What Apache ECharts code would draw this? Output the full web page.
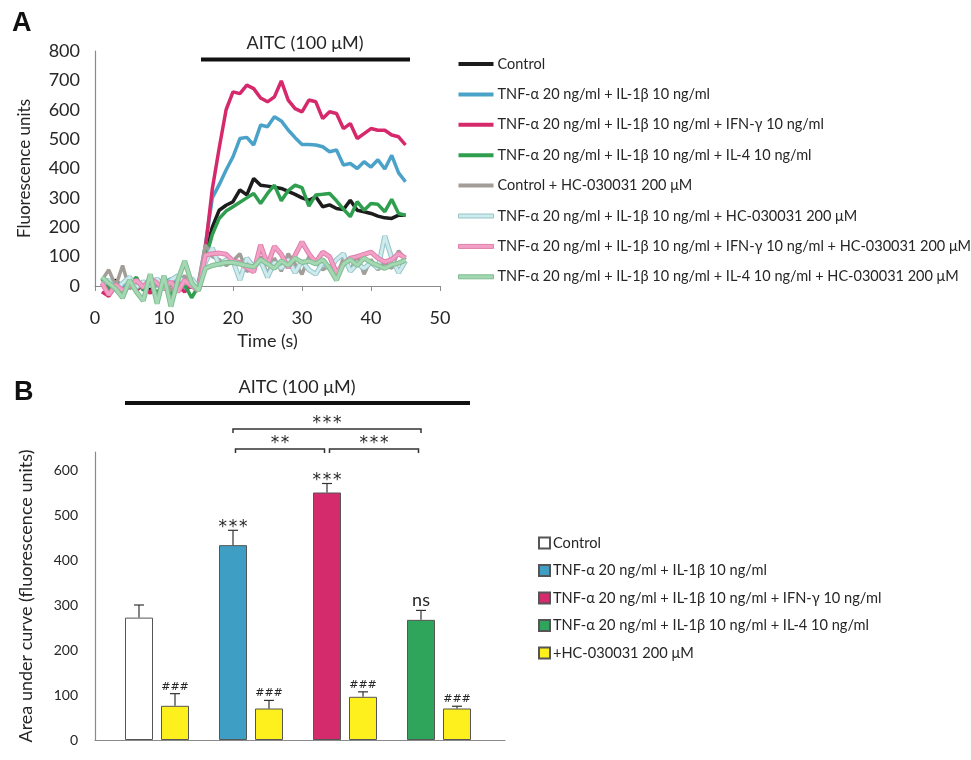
<!DOCTYPE html>
<html>
<head>
<meta charset="utf-8">
<title>AITC responses</title>
<script src="https://cdn.jsdelivr.net/npm/echarts@6/dist/echarts.min.js"></script>
<style>
    html, body { margin: 0; padding: 0; background: #fff; }
    #main { width: 971px; height: 760px; }
</style>
</head>
<body>
<div id="main"></div>
<script>
// ---- panel A data: fluorescence traces (1 point per second) ----
var time = [1, 2, 3, 4, 5, 6, 7, 8, 9, 10, 11, 12, 13, 14, 15, 16, 17, 18, 19, 20, 21, 22, 23,
    24, 25, 26, 27, 28, 29, 30, 31, 32, 33, 34, 35, 36, 37, 38, 39, 40, 41, 42, 43, 44, 45];

var control = [15, 5, 20, -5, 10, 0, 15, -10, 5, 25, 10, 0, 20, -5, 10,
    110, 200, 258, 275, 287, 327, 310, 366, 343, 340, 336, 332, 322, 312, 300,
    292, 304, 270, 276, 264, 260, 292, 258, 253, 247, 238, 232, 230, 241, 241];
var tnfIl1 = [10, -5, 15, 0, 20, 5, -10, 15, 0, 10, 25, 5, -5, 15, 5,
    140, 300, 345, 395, 440, 502, 506, 480, 548, 542, 576, 562, 531, 505, 482,
    482, 480, 474, 457, 463, 412, 417, 400, 423, 405, 430, 398, 445, 385, 355];
var tnfIl1Ifn = [-20, -35, 0, -40, 10, -15, 5, -25, 20, -10, 15, 0, -20, 5, -10,
    130, 330, 470, 600, 661, 655, 684, 672, 640, 627, 644, 698, 633, 604, 593,
    633, 627, 570, 593, 587, 536, 553, 502, 519, 536, 530, 530, 514, 508, 480];
var tnfIl1Il4 = [25, -10, 15, -20, 5, 30, -15, 10, -25, 15, -35, 20, 5, -40, 0,
    90, 175, 230, 255, 270, 285, 300, 315, 281, 315, 343, 290, 325, 343, 335,
    272, 310, 312, 315, 290, 262, 236, 287, 258, 281, 278, 253, 295, 247, 241];
var controlHc = [20, 55, 0, 70, -10, 15, -5, 30, 0, 20, -15, 10, 35, -5, 15,
    140, 100, 90, 70, 85, 110, 50, 60, 100, 40, 95, 50, 110, 75, 40,
    100, 80, 55, 70, 30, 95, 50, 105, 40, 90, 55, 80, 60, 120, 90];
var tnfIl1Hc = [5, 20, -15, 10, 30, -5, 15, 0, 25, -10, 20, 35, 10, 25, -5,
    80, 130, 70, 90, 85, 20, 95, 65, 85, 30, 80, 60, 90, 45, 85,
    55, 40, 80, 60, 90, 110, 50, 75, 60, 80, 60, 170, 95, 45, 85];
var tnfIl1IfnHc = [10, -30, 5, -15, 0, 20, -5, 25, 10, -10, 15, -20, 20, 0, -15,
    105, 110, 112, 108, 85, 80, 62, 48, 140, 72, 135, 108, 62, 105, 150,
    110, 80, 115, 100, 45, 75, 95, 100, 108, 115, 95, 82, 90, 110, 95];
var tnfIl1Il4Hc = [30, 10, -10, -40, 20, -20, -50, 40, -60, 35, -70, 20, 85, 10, -15,
    60, 70, 75, 80, 80, 75, 70, 65, 90, 75, 60, 85, 70, 95, 80,
    85, 75, 90, 60, 20, 75, 90, 70, 95, 80, 70, 60, 72, 78, 88];

var traceNames = [
    'Control',
    'TNF-α 20 ng/ml + IL-1β 10 ng/ml',
    'TNF-α 20 ng/ml + IL-1β 10 ng/ml + IFN-γ 10 ng/ml',
    'TNF-α 20 ng/ml + IL-1β 10 ng/ml + IL-4 10 ng/ml',
    'Control + HC-030031 200 μM',
    'TNF-α 20 ng/ml + IL-1β 10 ng/ml + HC-030031 200 μM',
    'TNF-α 20 ng/ml + IL-1β 10 ng/ml + IFN-γ 10 ng/ml + HC-030031 200 μM',
    'TNF-α 20 ng/ml + IL-1β 10 ng/ml + IL-4 10 ng/ml + HC-030031 200 μM'
];

// ---- panel B data: area under curve ----
var groups = ['Control', 'TNF+IL1', 'TNF+IL1+IFN', 'TNF+IL1+IL4'];
var treatMean = [272, 433, 550, 267];
var treatErr = [28, 33, 20, 21];
var hcMean = [76, 70, 96, 70];
var hcErr = [27, 18, 11, 5];
var treatSig = ['', '***', '***', 'ns'];
var hcSig = ['###', '###', '###', '###'];
// [from group, to group, label, level]
var comparisons = [[1, 2, '**', 0], [2, 3, '***', 0], [1, 3, '***', 1]];
// trailing space keeps these legend names apart from panel A's
var barNames = ['Control ', 'TNF-α 20 ng/ml + IL-1β 10 ng/ml ',
    'TNF-α 20 ng/ml + IL-1β 10 ng/ml + IFN-γ 10 ng/ml ',
    'TNF-α 20 ng/ml + IL-1β 10 ng/ml + IL-4 10 ng/ml '];
var hcName = '+HC-030031 200 μM';

(function () {
    var FONT = 'Lato, "DejaVu Sans", sans-serif';
    var STAR_FONT = '17px "DejaVu Sans", sans-serif';
    var TXT = '#262626';
    var AXIS = '#8a8a8a';
    var myChart = echarts.init(document.getElementById('main'));

    // trace styles: colour + optional darker outline for the pale lines
    var traces = [
        { data: control, color: '#1c1c1c' },
        { data: tnfIl1, color: '#4aa2c8' },
        { data: tnfIl1Ifn, color: '#d5296c' },
        { data: tnfIl1Il4, color: '#2f9f4f' },
        { data: controlHc, color: '#a29d97' },
        { data: tnfIl1Hc, color: '#cdeaec', outline: '#96c4c9' },
        { data: tnfIl1IfnHc, color: '#f2a0c6', outline: '#de7fac' },
        { data: tnfIl1Il4Hc, color: '#a4d8b2', outline: '#7fbd91' }
    ];

    var series = [];
    var legendA = [];
    traces.forEach(function (tr, k) {
        var pts = time.map(function (t, i) { return [t, tr.data[i]]; });
        if (tr.outline) {
            series.push({
                type: 'line', name: '_outline' + k, xAxisIndex: 0, yAxisIndex: 0,
                data: pts, showSymbol: false, symbol: 'none', clip: false,
                lineStyle: { color: tr.outline, width: 5 }, itemStyle: { color: tr.outline }
            });
        }
        series.push({
            type: 'line', name: traceNames[k], xAxisIndex: 0, yAxisIndex: 0,
            data: pts, showSymbol: false, symbol: 'none', clip: false,
            lineStyle: { color: tr.color, width: tr.outline ? 3 : 3.5 },
            itemStyle: { color: tr.color }
        });
        var item = { name: traceNames[k] };
        if (tr.outline) item.itemStyle = { color: tr.color, borderColor: tr.outline, borderWidth: 1 };
        legendA.push(item);
    });

    // bars
    var barColors = ['#ffffff', '#3f9ec4', '#d42b6c', '#2ea55b'];
    var BAR_W = 28, BAR_GAP = 8;
    var off = (BAR_W + BAR_GAP) / 2;
    treatMean.forEach(function (m, i) {
        series.push({
            type: 'bar', name: barNames[i], xAxisIndex: 2, yAxisIndex: 2, stack: 'treat',
            barWidth: BAR_W, barGap: (BAR_GAP / BAR_W * 100) + '%',
            data: treatMean.map(function (v, j) { return j === i ? v : '-'; }),
            itemStyle: { color: barColors[i], borderColor: '#555', borderWidth: 1 }
        });
    });
    series.push({
        type: 'bar', name: hcName, xAxisIndex: 2, yAxisIndex: 2,
        barWidth: BAR_W, barGap: (BAR_GAP / BAR_W * 100) + '%',
        data: hcMean,
        itemStyle: { color: '#fdf01c', borderColor: '#555', borderWidth: 1 }
    });

    // label text element sitting `gap` px above y
    function sigText(text, x, y, gap) {
        var star = text.charAt(0) === '*';
        var font = star ? STAR_FONT : (text === 'ns' ? '18px ' + FONT : '11px "DejaVu Sans", sans-serif');
        var dy = star ? gap - 4 : gap;
        // stars are spaced a little apart as in the figure
        var shown = star ? text.split('').join('\u200a') : text;
        return { type: 'text', style: { text: shown, x: x, y: y - dy,
            align: 'center', verticalAlign: 'middle', font: font, fill: TXT } };
    }

    function errSeries(means, errs, labels, dx, gap) {
        return {
            type: 'custom', xAxisIndex: 2, yAxisIndex: 2, clip: false, z: 5,
            data: means.map(function (m, i) { return [i, m, m + errs[i]]; }),
            encode: { x: 0, y: 2 },
            renderItem: function (params, api) {
                var x = api.coord([api.value(0), 0])[0] + dx;
                var y0 = api.coord([0, api.value(1)])[1];
                var y1 = api.coord([0, api.value(2)])[1];
                var st = { stroke: '#333', lineWidth: 1.2 };
                var label = labels[params.dataIndex];
                return {
                    type: 'group', children: [
                        { type: 'line', shape: { x1: x, y1: y0, x2: x, y2: y1 }, style: st },
                        { type: 'line', shape: { x1: x - 5, y1: y1, x2: x + 5, y2: y1 }, style: st },
                        sigText(label, x, y1, label === 'ns' ? 10 : gap)
                    ]
                };
            }
        };
    }
    series.push(errSeries(treatMean, treatErr, treatSig, -off, 7));
    series.push(errSeries(hcMean, hcErr, hcSig, off, 7));

    // significance brackets above the plot
    series.push({
        type: 'custom', xAxisIndex: 2, yAxisIndex: 2, clip: false, z: 5,
        data: comparisons.map(function (c) { return [c[0], c[1], c[3]]; }),
        encode: { x: [0, 1] },
        renderItem: function (params, api) {
            var top = api.coord([0, 640])[1];
            var lvl = api.value(2);
            var inset = lvl === 0 ? 2.5 : 0;
            var xa = api.coord([api.value(0), 0])[0] - off + inset;
            var xb = api.coord([api.value(1), 0])[0] - off - inset;
            var y = top - 3 - lvl * 20;
            var st = { stroke: '#333', lineWidth: 1.5, fill: null };
            return {
                type: 'group', children: [
                    { type: 'polyline', shape: { points: [[xa, y + 4], [xa, y], [xb, y], [xb, y + 4]] }, style: st },
                    sigText(comparisons[params.dataIndex][2], (xa + xb) / 2, y, 9)
                ]
            };
        }
    });

    var option = {
        animation: false,
        backgroundColor: '#fff',
        textStyle: { fontFamily: FONT },
        grid: [
            { left: 95, top: 51, width: 345, height: 235, outerBoundsMode: 'none' },
            { left: 95, top: 452, width: 410, height: 288, outerBoundsMode: 'none' },
            { left: 110, top: 452, width: 376, height: 288, outerBoundsMode: 'none' }
        ],
        xAxis: [
            {
                type: 'value', gridIndex: 0, min: 0, max: 50, interval: 10,
                name: 'Time (s)', nameLocation: 'middle', nameGap: 46,
                nameTextStyle: { fontSize: 18, color: TXT, fontFamily: FONT },
                axisLine: { lineStyle: { color: AXIS, width: 1.2 } },
                axisTick: { show: true, length: 5, lineStyle: { color: AXIS } },
                axisLabel: { fontSize: 18, color: TXT, margin: 23, fontFamily: FONT },
                splitLine: { show: false }
            },
            {
                type: 'value', gridIndex: 1, min: 0, max: 1,
                axisLine: { lineStyle: { color: AXIS, width: 1.2 } },
                axisTick: { show: false }, axisLabel: { show: false }, splitLine: { show: false }
            },
            {
                type: 'category', gridIndex: 2, data: groups,
                axisLine: { show: false }, axisTick: { show: false }, axisLabel: { show: false }
            }
        ],
        yAxis: [
            {
                type: 'value', gridIndex: 0, min: 0, max: 800, interval: 100,
                name: 'Fluorescence units', nameLocation: 'middle', nameGap: 62,
                nameTextStyle: { fontSize: 17, color: TXT, fontFamily: FONT },
                axisLine: { show: true, lineStyle: { color: AXIS, width: 1.2 } },
                axisTick: { show: false },
                axisLabel: { fontSize: 18, color: TXT, margin: 15, fontFamily: FONT },
                splitLine: { show: false }
            },
            {
                type: 'value', gridIndex: 1, min: 0, max: 640, interval: 100,
                name: 'Area under curve (fluorescence units)', nameLocation: 'middle', nameGap: 60,
                nameTextStyle: { fontSize: 18, color: TXT, fontFamily: FONT },
                axisLine: { show: true, lineStyle: { color: AXIS, width: 1.2 } },
                axisTick: { show: false },
                axisLabel: { fontSize: 14, color: TXT, margin: 17, fontFamily: FONT, showMaxLabel: false },
                splitLine: { show: false }
            },
            {
                type: 'value', gridIndex: 2, min: 0, max: 640, show: false, splitLine: { show: false }
            }
        ],
        legend: [
            {
                orient: 'vertical', left: 458, top: 56, padding: 0, itemGap: 14.4,
                icon: 'rect', itemWidth: 35, itemHeight: 4, selectedMode: false,
                data: legendA,
                textStyle: { fontSize: 14.5, color: TXT, fontFamily: FONT, lineHeight: 16, padding: [0, 0, 0, -1] }
            },
            {
                orient: 'vertical', left: 538, top: 535, padding: 0, itemGap: 11.5,
                icon: 'rect', itemWidth: 11, itemHeight: 11, selectedMode: false,
                data: barNames.concat([hcName]),
                textStyle: { fontSize: 14.6, color: TXT, fontFamily: FONT, lineHeight: 16, padding: [0, 0, 0, -2] }
            }
        ],
        graphic: [
            { type: 'text', left: 12, top: 10, style: { text: 'A', font: 'bold 27px "Liberation Sans", Arial, sans-serif', fill: '#111' } },
            { type: 'text', left: 14, top: 379, style: { text: 'B', font: 'bold 27px "Liberation Sans", Arial, sans-serif', fill: '#111' } },
            { type: 'text', x: 305, y: 43, style: { text: 'AITC (100 μM)', font: '18px ' + FONT, fill: TXT, align: 'center', verticalAlign: 'middle' } },
            { type: 'line', shape: { x1: 201, y1: 59.5, x2: 410, y2: 59.5 }, style: { stroke: '#111', lineWidth: 4 } },
            { type: 'text', x: 297, y: 387, style: { text: 'AITC (100 μM)', font: '18px ' + FONT, fill: TXT, align: 'center', verticalAlign: 'middle' } },
            { type: 'line', shape: { x1: 125, y1: 403, x2: 470, y2: 403 }, style: { stroke: '#111', lineWidth: 4 } }
        ],
        series: series
    };

    myChart.setOption(option);

    window.addEventListener('resize', function () {
        myChart.resize();
    });
})();
</script>
</body>
</html>
